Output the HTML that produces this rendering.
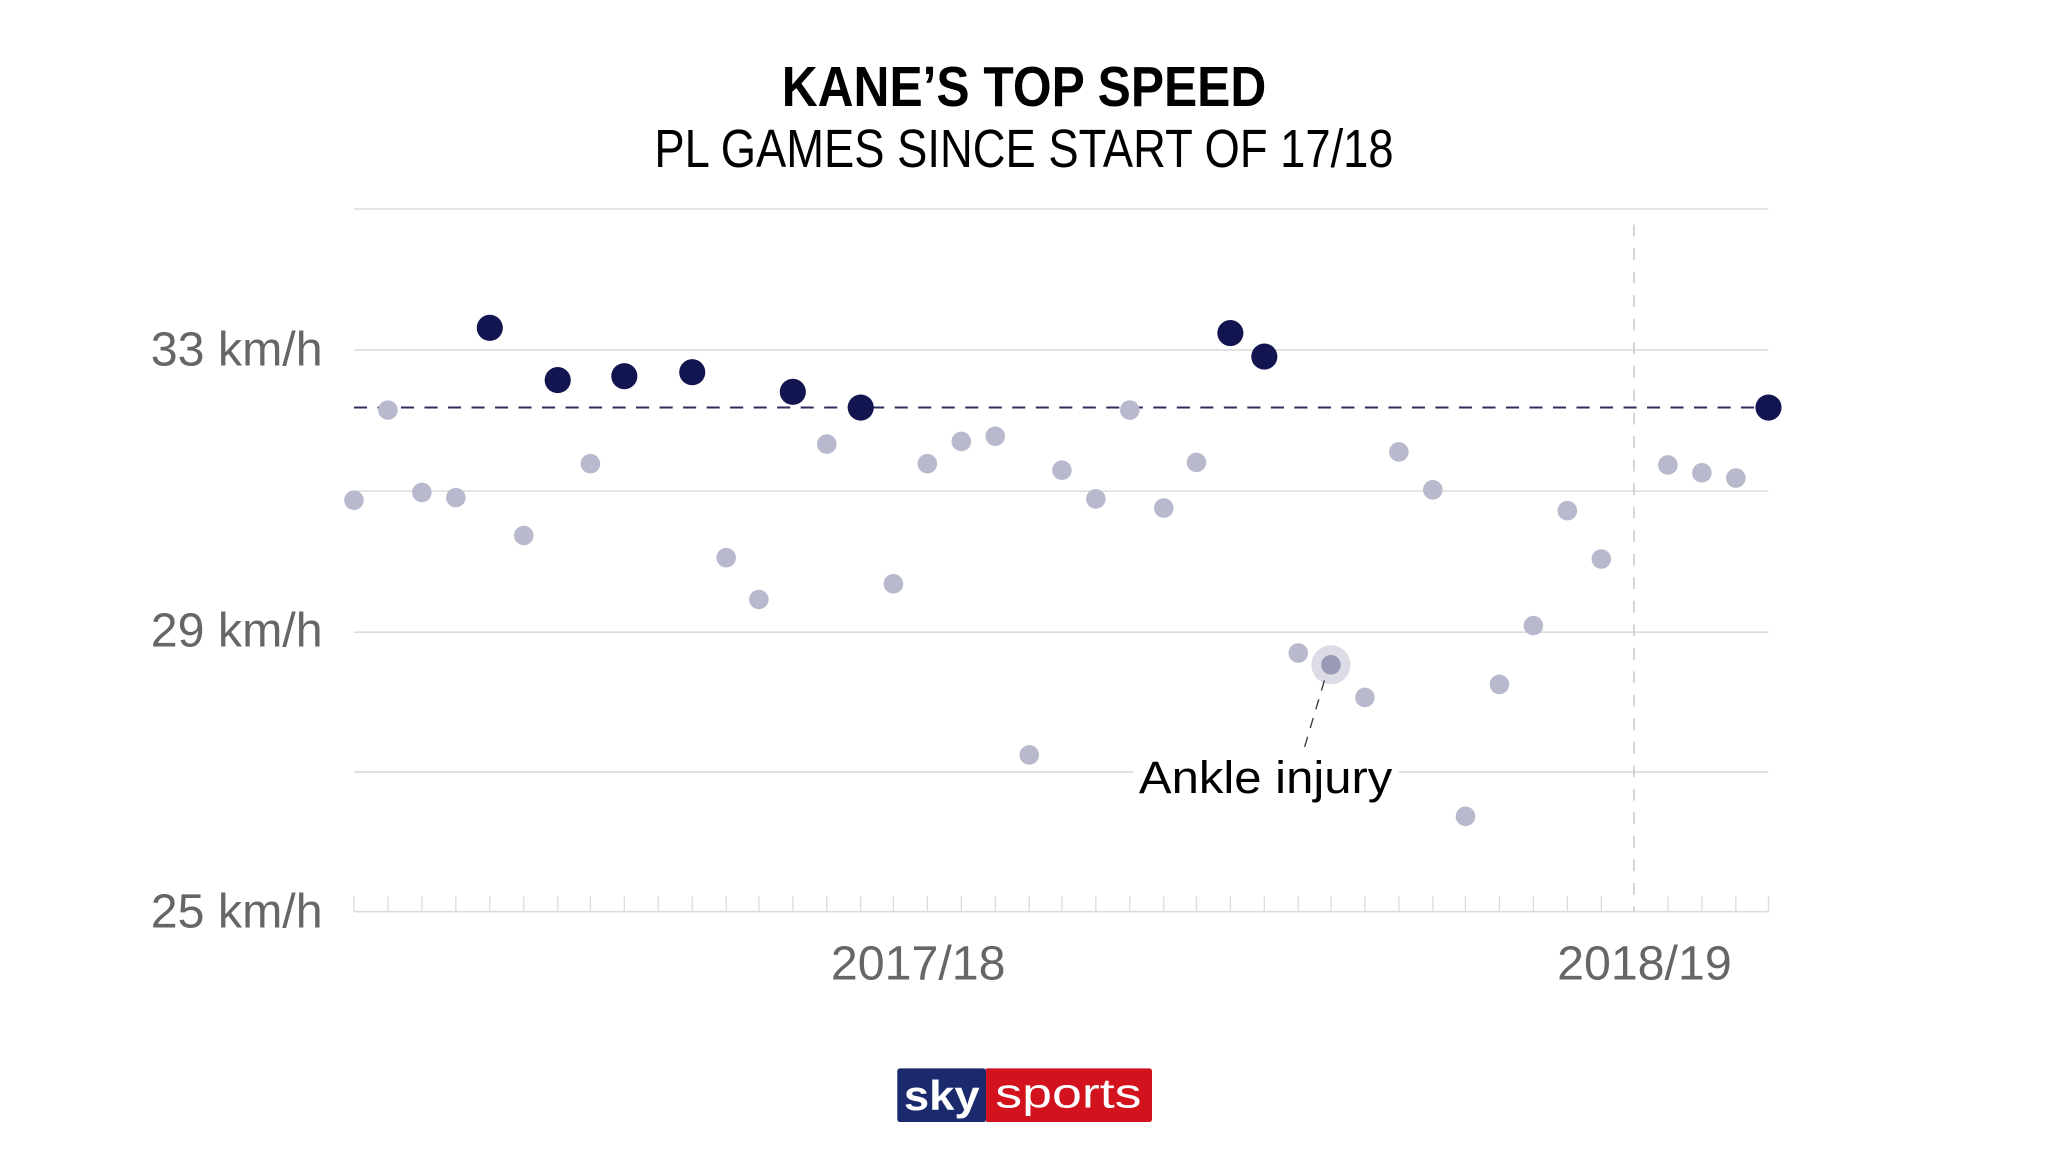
<!DOCTYPE html>
<html><head><meta charset="utf-8"><style>html,body{margin:0;padding:0;background:#fff}svg{display:block}</style></head>
<body>
<svg width="2048" height="1152" viewBox="0 0 1568 882" xmlns="http://www.w3.org/2000/svg" font-family="Liberation Sans, sans-serif">
<rect width="1568" height="882" fill="#fff"/>
<text x="784" y="81" text-anchor="middle" font-size="43" font-weight="bold" fill="#000" textLength="371" lengthAdjust="spacingAndGlyphs">KANE’S TOP SPEED</text>
<text x="784" y="128" text-anchor="middle" font-size="41" fill="#000" textLength="566" lengthAdjust="spacingAndGlyphs">PL GAMES SINCE START OF 17/18</text>
<g stroke="#dcdcdc" stroke-width="1.2">
<line x1="271" x2="1354" y1="160" y2="160"/>
<line x1="271" x2="1354" y1="268" y2="268"/>
<line x1="271" x2="1354" y1="376" y2="376"/>
<line x1="271" x2="1354" y1="484" y2="484"/>
<line x1="271" x2="1354" y1="591" y2="591"/>
<line x1="271" x2="1354" y1="698" y2="698"/>
</g>
<g id="ticks" stroke="#dcdcdc" stroke-width="1"></g>
<line x1="1251" x2="1251" y1="172" y2="698" stroke="#cfcfcf" stroke-width="1.3" stroke-dasharray="9,9"/>
<g fill="#666" font-size="37" text-anchor="end">
<text x="247" y="280">33 km/h</text>
<text x="247" y="495">29 km/h</text>
<text x="247" y="710">25 km/h</text>
</g>
<g fill="#666" font-size="37" text-anchor="middle">
<text x="703" y="750">2017/18</text>
<text x="1259" y="750">2018/19</text>
</g>
<line x1="271" x2="1354" y1="312" y2="312" stroke="#2d2d5e" stroke-width="1.6" stroke-dasharray="10,8"/>
<g fill="#b9b9cd">
<circle cx="271" cy="383" r="7.5"/><circle cx="297" cy="314" r="7.5"/><circle cx="323" cy="377" r="7.5"/><circle cx="349" cy="381" r="7.5"/>
<circle cx="401" cy="410" r="7.5"/><circle cx="452" cy="355" r="7.5"/><circle cx="556" cy="427" r="7.5"/><circle cx="581" cy="459" r="7.5"/>
<circle cx="633" cy="340" r="7.5"/><circle cx="684" cy="447" r="7.5"/><circle cx="710" cy="355" r="7.5"/><circle cx="736" cy="338" r="7.5"/>
<circle cx="762" cy="334" r="7.5"/><circle cx="788" cy="578" r="7.5"/><circle cx="813" cy="360" r="7.5"/><circle cx="839" cy="382" r="7.5"/>
<circle cx="865" cy="314" r="7.5"/><circle cx="891" cy="389" r="7.5"/><circle cx="916" cy="354" r="7.5"/><circle cx="994" cy="500" r="7.5"/>
<circle cx="1045" cy="534" r="7.5"/><circle cx="1071" cy="346" r="7.5"/><circle cx="1097" cy="375" r="7.5"/><circle cx="1122" cy="625" r="7.5"/>
<circle cx="1148" cy="524" r="7.5"/><circle cx="1174" cy="479" r="7.5"/><circle cx="1200" cy="391" r="7.5"/><circle cx="1226" cy="428" r="7.5"/>
<circle cx="1277" cy="356" r="7.5"/><circle cx="1303" cy="362" r="7.5"/><circle cx="1329" cy="366" r="7.5"/>
</g>
<circle cx="1019" cy="509" r="15" fill="#dcdce6"/>
<circle cx="1019" cy="509" r="7.5" fill="#9a9ab8"/>
<g fill="#12154f">
<circle cx="375" cy="251" r="10"/><circle cx="427" cy="291" r="10"/><circle cx="478" cy="288" r="10"/><circle cx="530" cy="285" r="10"/>
<circle cx="607" cy="300" r="10"/><circle cx="659" cy="312" r="10"/><circle cx="942" cy="255" r="10"/><circle cx="968" cy="273" r="10"/>
<circle cx="1354" cy="312" r="10"/>
</g>
<line x1="1014" y1="521" x2="997" y2="578" stroke="#333" stroke-width="1" stroke-dasharray="8,7"/>
<rect x="868" y="578" width="203" height="30" fill="#fff"/>
<text x="969" y="607" text-anchor="middle" font-size="35" fill="#000" textLength="194" lengthAdjust="spacingAndGlyphs">Ankle injury</text>
<rect x="687" y="818" width="68" height="41" rx="2" fill="#1a2a6c"/>
<rect x="755" y="818" width="127" height="41" rx="2" fill="#d2121d"/>
<rect x="755" y="818" width="4" height="41" fill="#d2121d"/>
<text x="721" y="850" text-anchor="middle" font-size="32" font-weight="bold" fill="#fff" textLength="58" lengthAdjust="spacingAndGlyphs">sky</text>
<text x="818" y="848" text-anchor="middle" font-size="32" fill="#fff" textLength="112" lengthAdjust="spacingAndGlyphs">sports</text>
<g stroke="#dcdcdc" stroke-width="1">
<line x1="271" x2="271" y1="686" y2="698"/><line x1="297" x2="297" y1="686" y2="698"/><line x1="323" x2="323" y1="686" y2="698"/><line x1="349" x2="349" y1="686" y2="698"/><line x1="375" x2="375" y1="686" y2="698"/><line x1="401" x2="401" y1="686" y2="698"/><line x1="427" x2="427" y1="686" y2="698"/><line x1="452" x2="452" y1="686" y2="698"/><line x1="478" x2="478" y1="686" y2="698"/><line x1="504" x2="504" y1="686" y2="698"/><line x1="530" x2="530" y1="686" y2="698"/><line x1="556" x2="556" y1="686" y2="698"/><line x1="581" x2="581" y1="686" y2="698"/><line x1="607" x2="607" y1="686" y2="698"/><line x1="633" x2="633" y1="686" y2="698"/><line x1="659" x2="659" y1="686" y2="698"/><line x1="684" x2="684" y1="686" y2="698"/><line x1="710" x2="710" y1="686" y2="698"/><line x1="736" x2="736" y1="686" y2="698"/><line x1="762" x2="762" y1="686" y2="698"/><line x1="788" x2="788" y1="686" y2="698"/><line x1="813" x2="813" y1="686" y2="698"/><line x1="839" x2="839" y1="686" y2="698"/><line x1="865" x2="865" y1="686" y2="698"/><line x1="891" x2="891" y1="686" y2="698"/><line x1="916" x2="916" y1="686" y2="698"/><line x1="942" x2="942" y1="686" y2="698"/><line x1="968" x2="968" y1="686" y2="698"/><line x1="994" x2="994" y1="686" y2="698"/><line x1="1019" x2="1019" y1="686" y2="698"/><line x1="1045" x2="1045" y1="686" y2="698"/><line x1="1071" x2="1071" y1="686" y2="698"/><line x1="1097" x2="1097" y1="686" y2="698"/><line x1="1122" x2="1122" y1="686" y2="698"/><line x1="1148" x2="1148" y1="686" y2="698"/><line x1="1174" x2="1174" y1="686" y2="698"/><line x1="1200" x2="1200" y1="686" y2="698"/><line x1="1226" x2="1226" y1="686" y2="698"/><line x1="1277" x2="1277" y1="686" y2="698"/><line x1="1303" x2="1303" y1="686" y2="698"/><line x1="1329" x2="1329" y1="686" y2="698"/><line x1="1354" x2="1354" y1="686" y2="698"/>
</g>
</svg>
</body></html>
